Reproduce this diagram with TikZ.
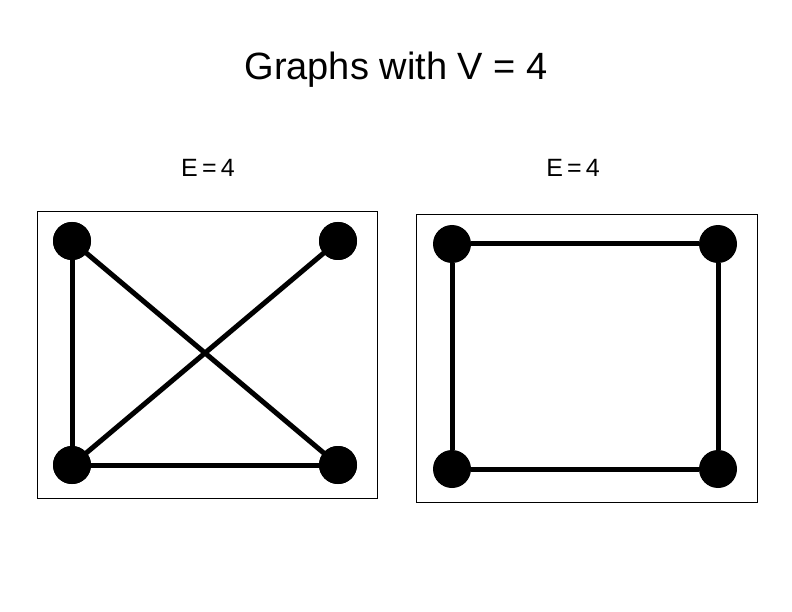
\documentclass[tikz,border=0pt]{standalone}
\usepackage{fontspec}
\setmainfont{Liberation Sans}
\begin{document}
\begin{tikzpicture}[x=1pt,y=-1pt,
  vtx/.style={circle,fill=black,minimum size=38pt,inner sep=0pt},
  edge/.style={line width=5pt},
  frame/.style={draw,line width=0.6pt}]
\useasboundingbox (0,0) rectangle (792,612);
\node[font=\fontsize{38}{44}\selectfont] (title) at (396,70) {Graphs with V = 4};
\node[font=\fontsize{25}{30}\selectfont] (l1) at (208,168) {E\,=\,4};
\node[font=\fontsize{25}{30}\selectfont] (l2) at (573,168) {E\,=\,4};
\draw[frame] (37,211) rectangle (377,498);
\draw[frame] (416,214) rectangle (757,502);
\node[vtx] (a1) at (72,241) {};
\node[vtx] (b1) at (338,241) {};
\node[vtx] (c1) at (72,465) {};
\node[vtx] (d1) at (338,465) {};
\draw[edge] (a1.center) -- (c1.center) -- (d1.center);
\draw[edge] (a1.center) -- (d1.center);
\draw[edge] (b1.center) -- (c1.center);
\node[vtx] at (a1) {};\node[vtx] at (b1) {};\node[vtx] at (c1) {};\node[vtx] at (d1) {};
\node[vtx] (a2) at (452,244) {};
\node[vtx] (b2) at (718,244) {};
\node[vtx] (c2) at (452,469) {};
\node[vtx] (d2) at (718,469) {};
\draw[edge] (a2) -- (b2);
\draw[edge] (b2) -- (d2);
\draw[edge] (d2) -- (c2);
\draw[edge] (c2) -- (a2);
\end{tikzpicture}
\end{document}
